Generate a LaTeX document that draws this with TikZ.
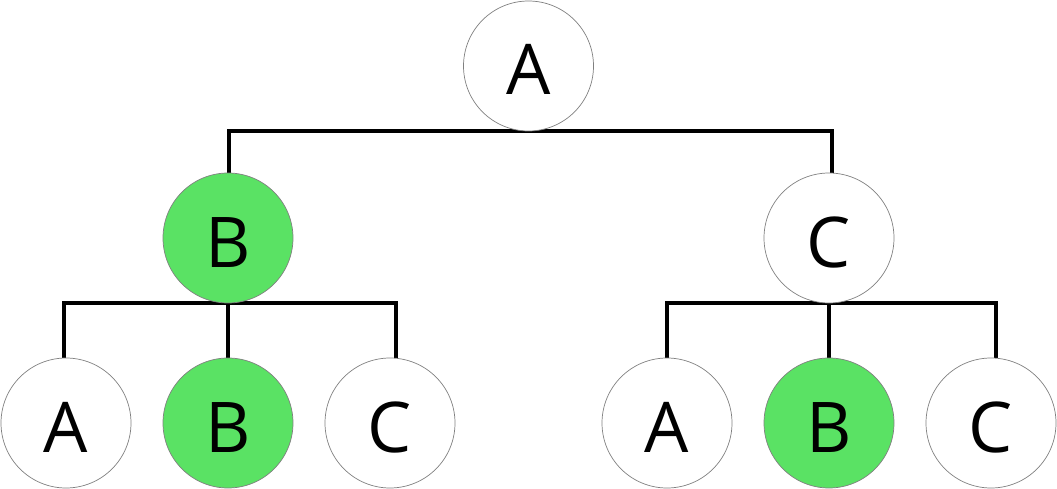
\documentclass[tikz,border=0pt]{standalone}
\usepackage{fontspec}
\setmainfont{Open Sans}
\usetikzlibrary{backgrounds}
\definecolor{nodegreen}{HTML}{5AE264}
\definecolor{ringgray}{HTML}{808080}
\tikzset{
  tnode/.style={circle, draw=ringgray, line width=0.7pt, fill=white, minimum size=130pt, inner sep=0pt,
    font=\fontsize{70}{84}\selectfont, text height=58pt, text depth=0pt},
  hit/.style={tnode, fill=nodegreen},
  conn/.style={line width=3.8pt, draw=black}
}
\begin{document}
\begin{tikzpicture}[x=1pt,y=-1pt]
\useasboundingbox (0,0) rectangle (1057,489);
\node[tnode] (root) at (528.5,66) {A};
\node[hit]   (b)    at (228,238) {B};
\node[tnode] (c)    at (829,238) {C};
\node[tnode] (la)   at (66,423)  {A};
\node[hit]   (lb)   at (228,423) {B};
\node[tnode] (lc)   at (390,423) {C};
\node[tnode] (ra)   at (667,423) {A};
\node[hit]   (rb)   at (829,423) {B};
\node[tnode] (rc)   at (991,423) {C};
\begin{scope}[on background layer]
\draw[conn] ([xshift=1pt]b.north) |- (root.south) -| ([xshift=3pt]c.north);
\draw[conn] ([xshift=-2pt]la.north) |- (b.south) -| ([xshift=6pt]lc.north);
\draw[conn] (b.south) -- (lb.north);
\draw[conn] (ra.north) |- (c.south) -| ([xshift=5pt]rc.north);
\draw[conn] (c.south) -- (rb.north);
\end{scope}
\end{tikzpicture}
\end{document}
